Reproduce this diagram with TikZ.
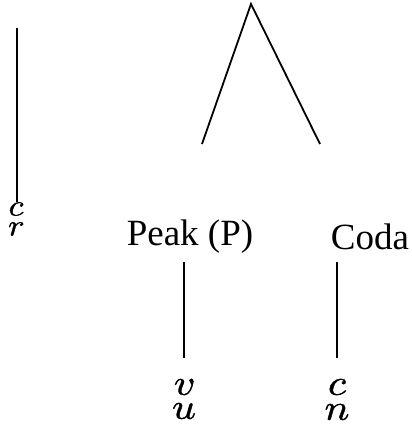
\documentclass[tikz,border=0pt]{standalone}
\usepackage{fontspec}
\setmainfont{Liberation Serif}
\newfontfamily\segfont[FakeBold=1.2,FakeStretch=1.15]{Latin Modern Math}
\begin{document}
\begin{tikzpicture}[x=1pt,y=-1pt,
  branch/.style={line width=1.8pt},
  label/.style={inner sep=0pt,font=\fontsize{37}{40}\selectfont},
  seg/.style={inner sep=0pt,font=\segfont\fontsize{36}{38}\selectfont},
  smallseg/.style={inner sep=0pt,font=\segfont\fontsize{30}{32}\selectfont}]
\useasboundingbox (0,0) rectangle (412,437);
% onset branch
\coordinate (ot) at (17,28);
\coordinate (ob) at (17,202);
\draw[branch] (ot) -- (ob);
\node[smallseg] (c1) at (16,209) {𝑐};
\node[smallseg] (r1) at (16,229) {𝑟};
% rhyme branching
\coordinate (apex) at (251,4);
\coordinate (pl) at (202,144);
\coordinate (cl) at (320,144);
\draw[branch] (pl) -- (apex) -- (cl);
\node[label] (peak) at (190,237) {Peak (P)};
\node[label] (coda) at (370,237) {Coda};
% segments under peak and coda
\coordinate (pt) at (184,262);
\coordinate (pb) at (184,358);
\coordinate (ct) at (337,262);
\coordinate (cb) at (337,358);
\draw[branch] (pt) -- (pb);
\draw[branch] (ct) -- (cb);
\node[seg] (v) at (184,387) {𝑣};
\node[seg] (u) at (184,411) {𝑢};
\node[seg] (c2) at (337,387) {𝑐};
\node[seg] (n) at (337,412) {𝑛};
\end{tikzpicture}
\end{document}
